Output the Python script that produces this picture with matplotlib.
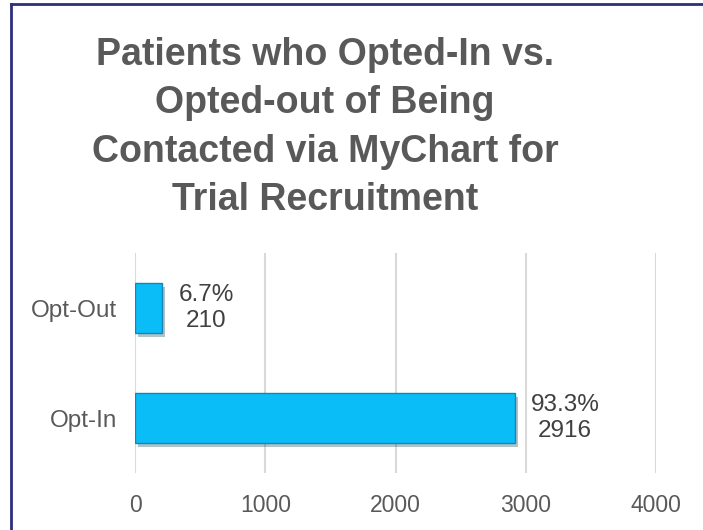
import matplotlib.pyplot as plt
import matplotlib.patheffects as pe
from matplotlib.lines import Line2D

# Chart data
categories = ['Opt-In', 'Opt-Out']
counts = [2916, 210]
percents = ['93.3%', '6.7%']
x_ticks = [0, 1000, 2000, 3000, 4000]

plt.rcParams['font.family'] = ['Liberation Sans', 'DejaVu Sans']
grey = '#595959'

fig = plt.figure(figsize=(7.03, 5.30), dpi=100)
ax = fig.add_axes([135 / 703, 1 - 473 / 530, 521 / 703, 220 / 530])

# Bars with a soft shadow
bars = ax.barh(categories, counts, height=0.46, color='#0ABDF7',
               edgecolor='#1585B5', linewidth=1.0, zorder=3)
for b in bars:
    b.set_path_effects([pe.SimplePatchShadow(offset=(2, -3), alpha=0.3),
                        pe.Normal()])

# Value labels: percent over count
for b, p, c in zip(bars, percents, counts):
    ax.annotate(f'{p}\n{c}', xy=(b.get_width(), b.get_y() + b.get_height() / 2),
                xytext=(16, 0), textcoords='offset pixels', ha='left',
                va='center', multialignment='center', fontsize=17.5,
                color='#404040', linespacing=1.25)

ax.set_xlim(0, 4000)
ax.set_ylim(-0.5, 1.5)
ax.set_xticks(x_ticks)
ax.set_xticklabels([str(t) for t in x_ticks])
ax.tick_params(axis='both', length=0, colors=grey)
ax.tick_params(axis='x', pad=15, labelsize=16.5)
ax.tick_params(axis='y', pad=13, labelsize=17.5)
ax.grid(axis='x', color='#D9D9D9', linewidth=1.5, zorder=0)
for s in ax.spines.values():
    s.set_visible(False)

# Title (anchored at the baseline of its last line)
fig.text(325 / 703, 1 - 210 / 530, 'Patients who Opted-In vs.\nOpted-out of Being\n'
         'Contacted via MyChart for\nTrial Recruitment',
         ha='center', va='baseline', fontsize=27, fontweight='bold',
         color=grey, linespacing=1.44)

# Chart border (left and top edges only visible)
fig.add_artist(Line2D([11 / 703, 11 / 703], [0, 1 - 4 / 530], color='#2E2E80',
                      linewidth=2, transform=fig.transFigure))
fig.add_artist(Line2D([11 / 703, 1], [1 - 4 / 530, 1 - 4 / 530], color='#2E2E80',
                      linewidth=2, transform=fig.transFigure))

fig.savefig('out.png', dpi=100)
